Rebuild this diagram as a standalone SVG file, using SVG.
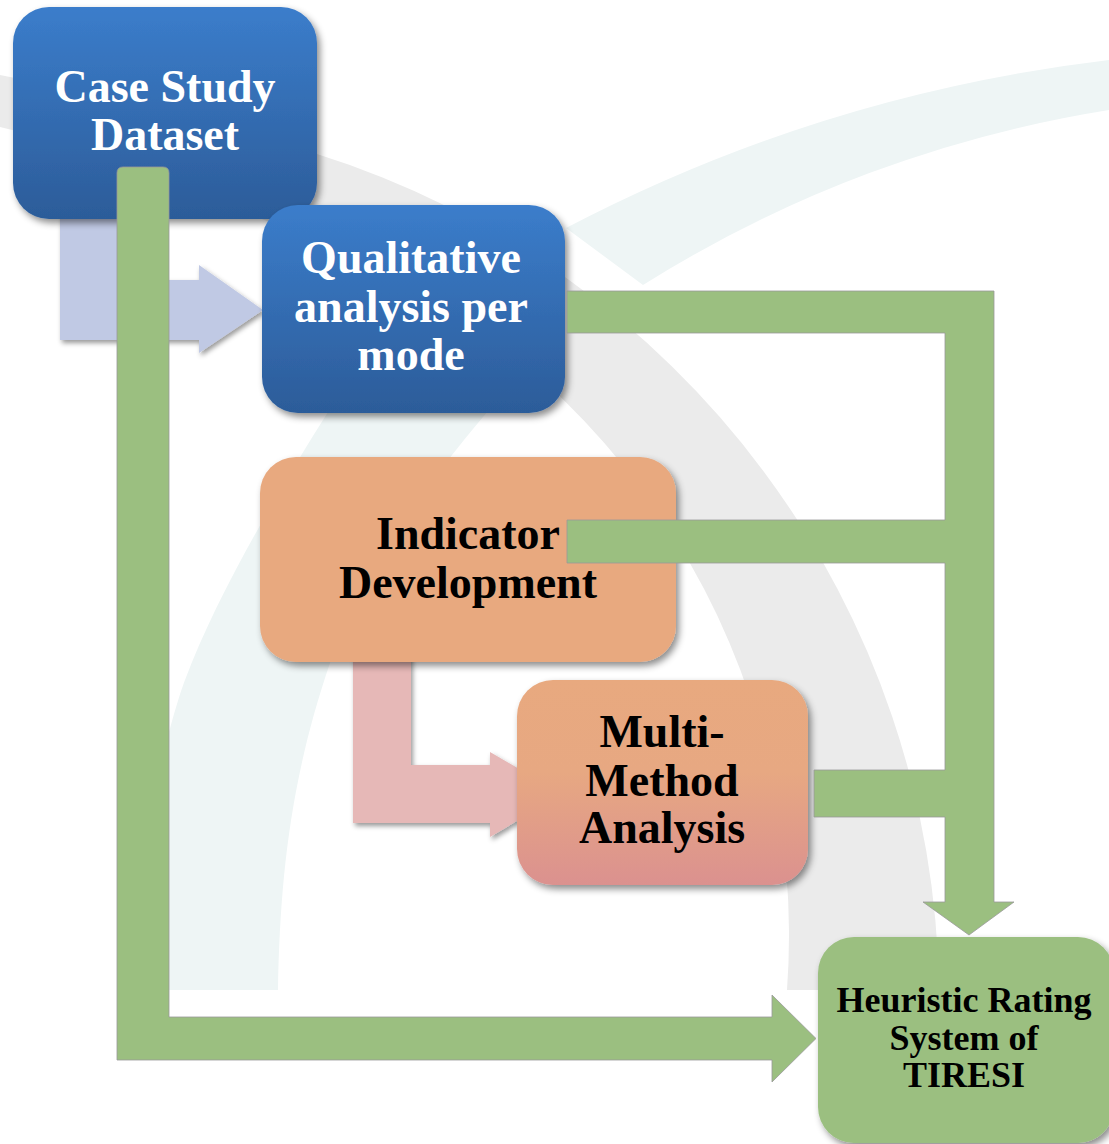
<svg xmlns="http://www.w3.org/2000/svg" width="1109" height="1144" viewBox="0 0 1109 1144">
  <defs>
    <linearGradient id="blueFill" x1="0" y1="0" x2="0" y2="1">
      <stop offset="0" stop-color="#3b7dcb"/>
      <stop offset="1" stop-color="#2c5c99"/>
    </linearGradient>
    <linearGradient id="peachFill" x1="0" y1="0" x2="0" y2="1">
      <stop offset="0" stop-color="#e8a97f"/>
      <stop offset="0.45" stop-color="#e7a882"/>
      <stop offset="1" stop-color="#db918f"/>
    </linearGradient>
    <filter id="shadow" x="-10%" y="-10%" width="125%" height="130%">
      <feDropShadow dx="3" dy="4" stdDeviation="3.5" flood-color="#000" flood-opacity="0.45"/>
    </filter>
    <filter id="softShadow" x="-10%" y="-10%" width="125%" height="130%">
      <feDropShadow dx="2" dy="3" stdDeviation="2.5" flood-color="#000" flood-opacity="0.4"/>
    </filter>
    <style>
      .box { filter: url(#shadow); }
      .blue { fill: url(#blueFill); }
      .peach { fill: #e8a97f; }
      .peach-grad { fill: url(#peachFill); }
      .green { fill: #9bbf80; }
      .label { font-family: "Liberation Serif", "Times New Roman", serif; font-weight: bold; font-size: 46px; text-anchor: middle; }
      .light { fill: #ffffff; }
      .dark { fill: #000000; }
      .small { font-size: 36px; }
      .bar { fill: #9bbf80; stroke: #9a9a9a; stroke-width: 1; stroke-opacity: 0.8; }
    </style>
  </defs>

  <rect width="1109" height="1144" fill="#ffffff"/>

  <!-- watermark swooshes behind the flow -->
  <g id="watermark">
    <path fill="#eef5f5" d="M1115,59.3 A1568.7,1568.7 0 0 0 566,228 L643,285 A1244.2,1244.2 0 0 1 1115,109 Z"/>
    <path fill="#eef5f5" d="M370,345 C330,410 230,560 185,680 C168,725 135,860 128,990 L278,990 C280,880 290,780 330,663 C370,560 430,480 483,417 L540,350 Z"/>
    <path fill="#ebebeb" d="M0,75 C100,95 220,125 317,154 A888,888 0 0 1 939,990 L787,990 A748,748 0 0 0 317,240 C220,205 100,150 0,127 Z"/>
  </g>

  <!-- block arrows passing under the boxes -->
  <g id="connectors-back">
    <path id="arrow-case-to-qual" fill="#c0c9e4" filter="url(#softShadow)" d="M60,200 L120,200 L120,280 L199,280 L199,265 L263,310 L199,353 L199,340 L60,340 Z"/>
    <path id="arrow-ind-to-multi" fill="#e6b8b7" filter="url(#softShadow)" d="M353,640 L411,640 L411,765 L490,765 L490,752 L562,794 L490,837 L490,823 L353,823 Z"/>
  </g>

  <g id="node-case-study">
    <rect class="box blue" x="13" y="7" width="304" height="212" rx="36"/>
    <text class="label light" x="165" y="102">Case Study</text>
    <text class="label light" x="165" y="150">Dataset</text>
  </g>

  <g id="node-qualitative">
    <rect class="box blue" x="262" y="205" width="303" height="208" rx="36"/>
    <text class="label light" x="411" y="273">Qualitative</text>
    <text class="label light" x="411" y="322">analysis per</text>
    <text class="label light" x="411" y="370">mode</text>
  </g>

  <g id="node-indicator">
    <rect class="box peach" x="260" y="457" width="416" height="205" rx="36"/>
    <text class="label dark" x="468" y="549">Indicator</text>
    <text class="label dark" x="468" y="598">Development</text>
  </g>

  <g id="node-multi-method">
    <rect class="box peach-grad" x="517" y="680" width="291" height="205" rx="36"/>
    <text class="label dark" x="662" y="747">Multi-</text>
    <text class="label dark" x="662" y="796">Method</text>
    <text class="label dark" x="662" y="843">Analysis</text>
  </g>

  <g id="node-heuristic">
    <rect class="box green" x="818" y="937" width="296" height="206" rx="36"/>
    <text class="label small dark" x="964" y="1012">Heuristic Rating</text>
    <text class="label small dark" x="964" y="1050">System of</text>
    <text class="label small dark" x="964" y="1087">TIRESI</text>
  </g>

  <!-- green feed lines into the rating system -->
  <g id="connectors">
    <path class="bar" d="M567,291 L994,291 L994,902 L1014,902 L969,935 L923,902 L945,902 L945,817 L814,817 L814,770 L945,770 L945,563 L567,563 L567,520 L945,520 L945,333 L567,333 Z"/>
    <path class="bar" d="M117,173 Q117,167 123,167 L163,167 Q169,167 169,173 L169,1017 L772,1017 L772,995 L816,1038.5 L772,1082 L772,1060 L117,1060 Z"/>
  </g>
</svg>
